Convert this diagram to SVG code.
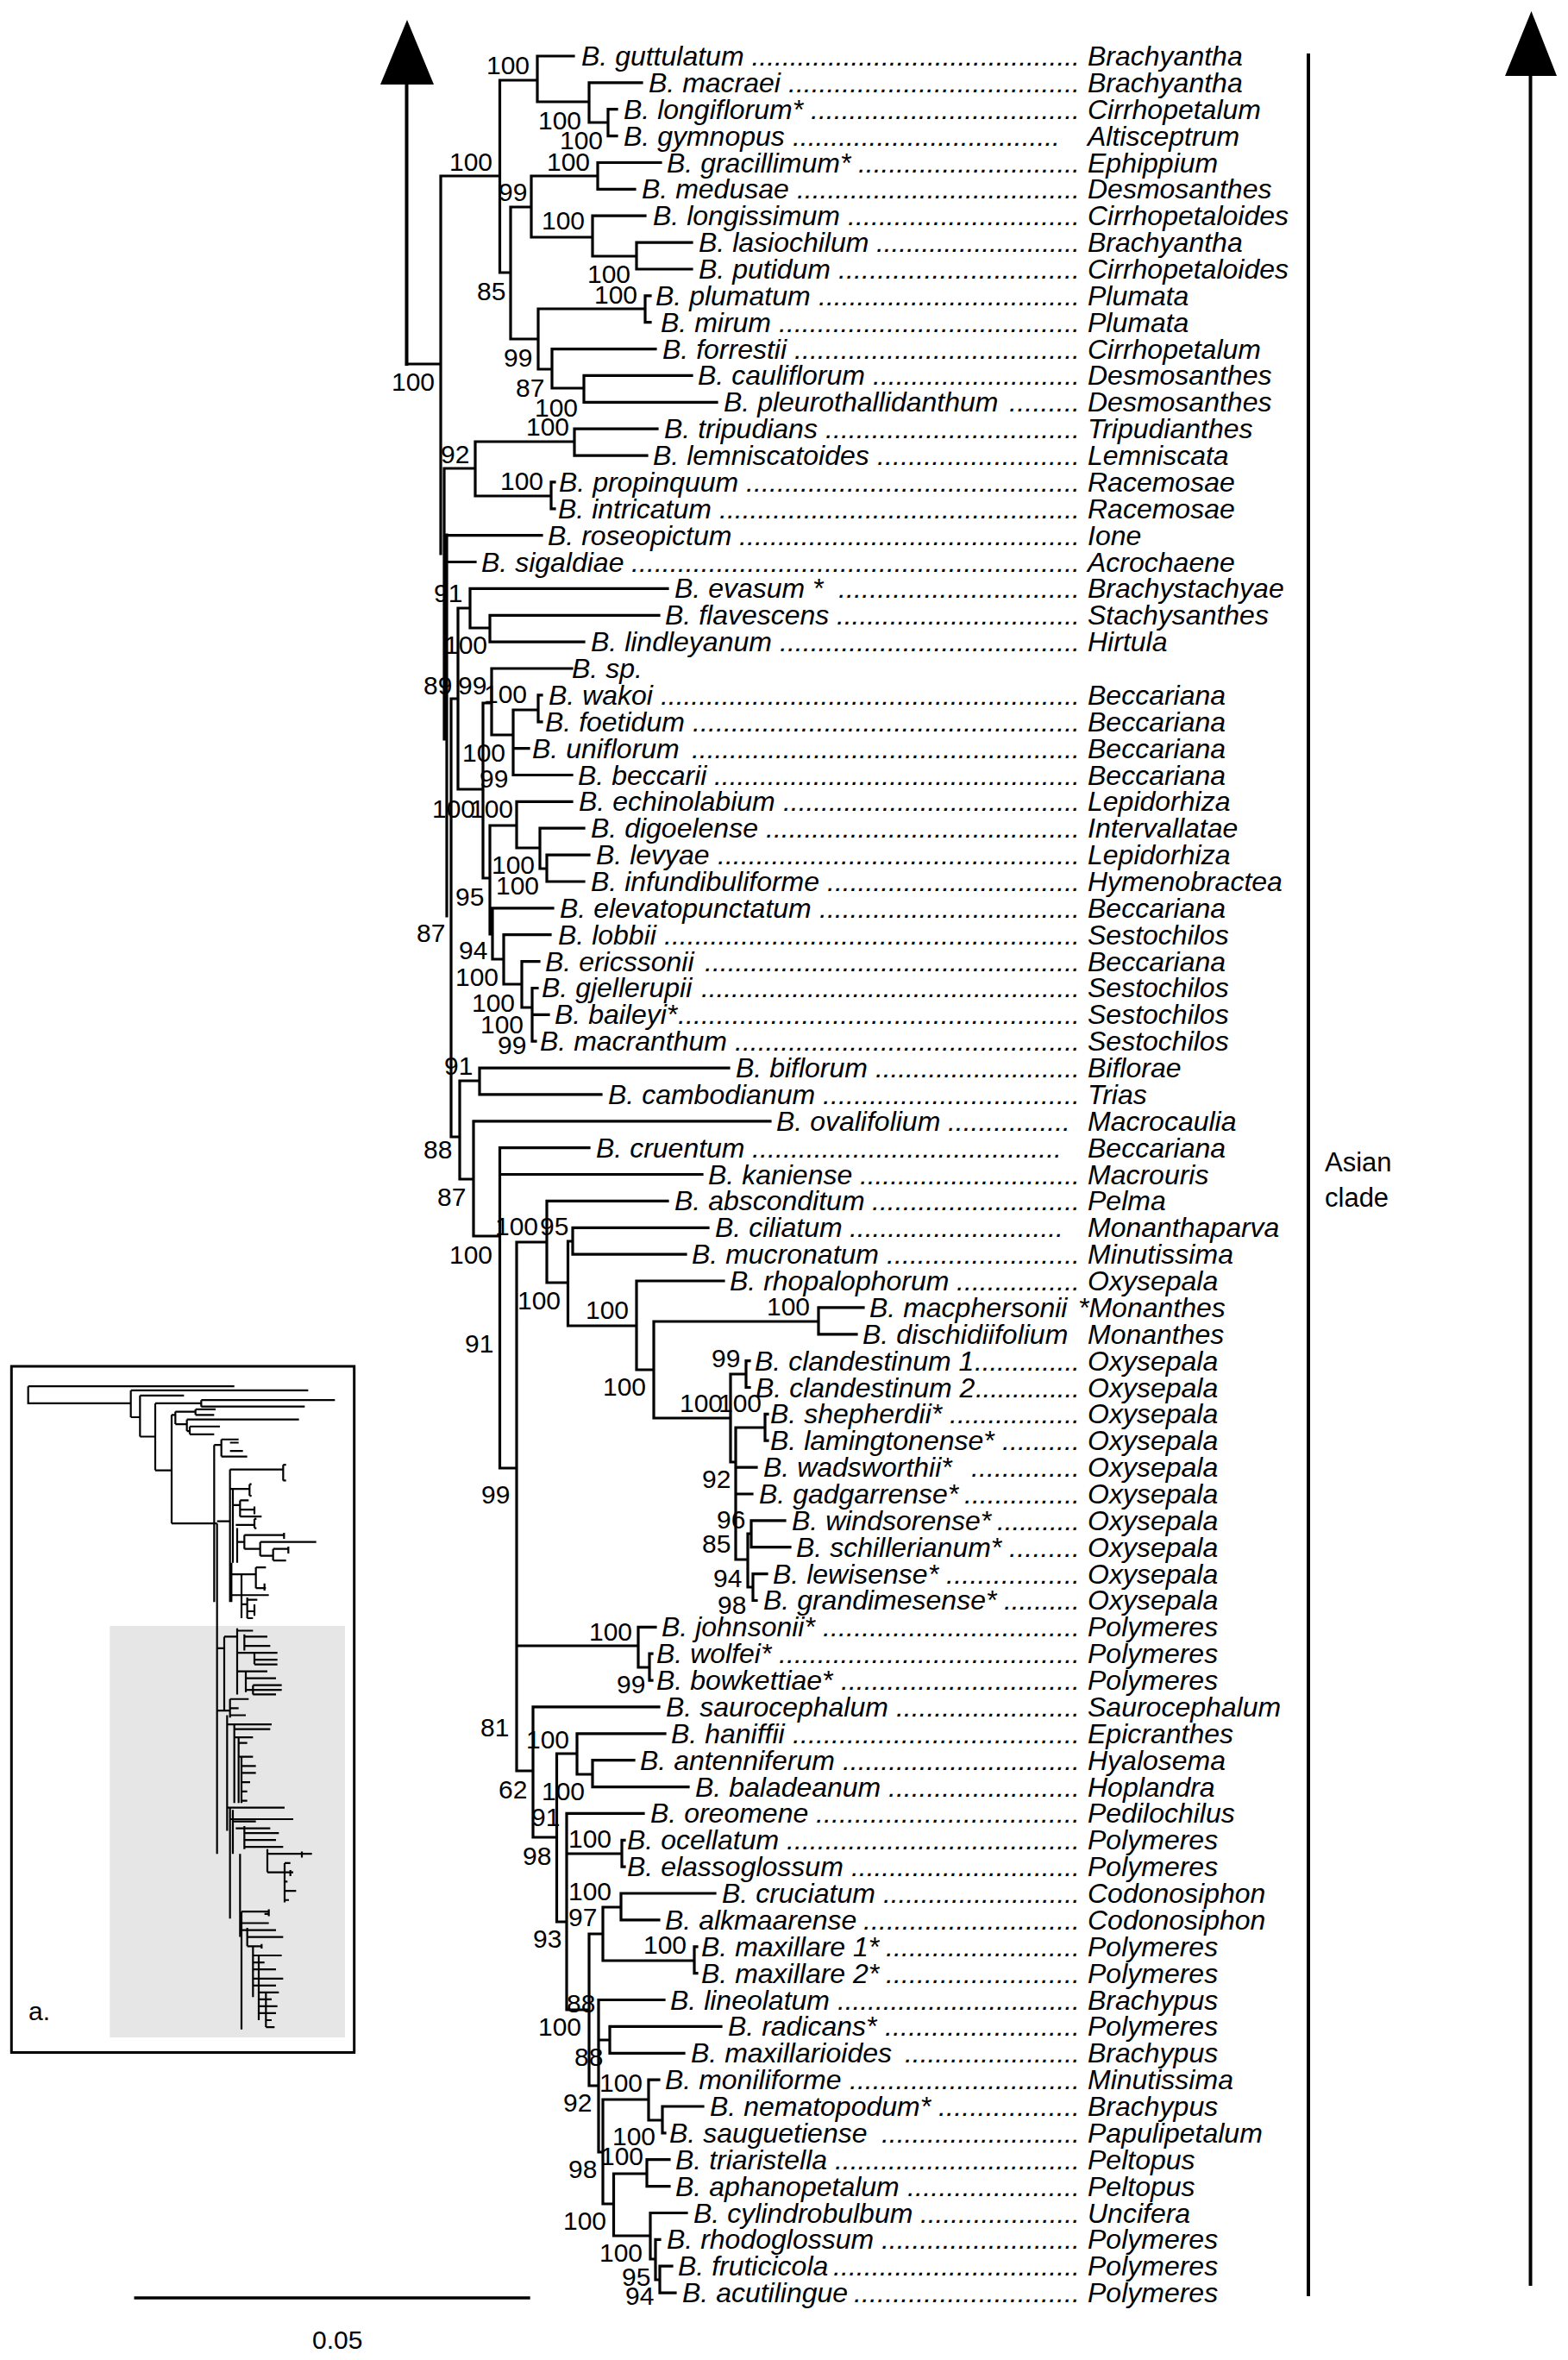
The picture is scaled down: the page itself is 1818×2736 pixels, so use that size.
<svg xmlns="http://www.w3.org/2000/svg" width="1818" height="2736" viewBox="0 0 1818 2736">
<style>
.sp{font-family:"Liberation Sans",Arial,Helvetica,sans-serif;font-size:32px;font-style:italic;fill:#000}
.bs{font-family:"Liberation Sans",Arial,Helvetica,sans-serif;font-size:30px;fill:#000}
.lb{font-family:"Liberation Sans",Arial,Helvetica,sans-serif;font-size:31px;fill:#000}
.tr{fill:none;stroke:#000;stroke-width:3.2;stroke-linecap:square}
.ax{fill:none;stroke:#000;stroke-width:4}
.ins{fill:none;stroke:#000;stroke-width:2.2}
</style>
<rect width="1818" height="2736" fill="#fff"/>

<g id="inset">
<rect x="13.3" y="1584" width="397.4" height="795.5" fill="#fff" stroke="#000" stroke-width="3"/>
<rect x="127.3" y="1885" width="272.7" height="477" fill="#e6e6e6"/>
<g transform="translate(0,1560) scale(0.33333,0.53562)">
<path class="ins" vector-effect="non-scaling-stroke" d="M98 88H815 M98 88V125H455 M455 97V155 M455 97H1072 M455 155H487 M487 108V197 M487 108H640 M487 197H540 M540 125V270 M540 125H700 M700 118V132 M700 118H1165 M700 132H1060 M540 270H597 M597 150V385 M597 150H610 M610 143V170 M610 143H680 M680 138V150 M680 138H750 M680 150H745 M610 170H650 M650 160V185 M650 160H1040 M650 185H660 M660 175V192 M660 175H765 M660 192H745 M597 385H755 M745 215V555 M745 215H770 M770 203V240 M770 203H830 M800 210H830 M770 240H860 M800 228H845 M755 385V1100 M755 380H800 M800 268V555 M800 268H985 M985 258V292 M985 258H995 M985 292H995 M800 310H868 M868 300V325 M868 300H875 M868 325H875 M810 310V470 M810 345H835 M835 335V370 M835 335H865 M835 355H885 M885 348V365 M835 370H910 M820 388H885 M885 375V395 M885 375H892 M885 395H892 M825 395V470 M825 425H850 M850 410V440 M850 410H990 M988 405V418 M850 440H905 M905 425V455 M905 425H1100 M905 455H950 M950 440V465 M950 440H1005 M1003 435V450 M950 465H995 M805 470V555 M805 495H890 M890 480V525 M890 480H925 M890 525H925 M920 515V530 M805 540H935 M840 495V590 M840 560H860 M860 545V590 M860 550H895 M860 575H885 M885 560V585 M860 590H880 M755 655H780 M780 630V790 M780 630H825 M825 612V755 M825 617H880 M850 625V660 M850 630H930 M850 650H940 M825 665H965 M885 665V690 M885 680H965 M885 690H965 M825 705H930 M855 705V750 M855 720H960 M880 735V755 M880 735H980 M855 745H980 M880 755H960 M755 790H800 M800 765V805 M800 765H865 M800 785H830 M800 800H855 M790 800V1050 M790 820H945 M815 820V990 M815 830H940 M815 848H880 M830 848V990 M830 860H860 M830 890H880 M840 890V990 M840 910H890 M840 925H890 M840 945H870 M840 965H860 M840 985H860 M790 1000H990 M800 1000V1240 M800 1025H1020 M810 1005V1100 M810 1030H890 M820 1045H940 M850 1040V1090 M850 1055H970 M850 1070H960 M850 1085H985 M930 1090V1140 M930 1100H1085 M1050 1095V1108 M930 1140H990 M990 1120V1205 M990 1120H1010 M990 1140H1020 M990 1160H1000 M990 1180H1030 M990 1200H1005 M1010 1135V1148 M835 1100V1280 M840 1225V1480 M840 1225H935 M935 1220V1235 M920 1230H935 M840 1250H935 M840 1265H960 M860 1260V1300 M860 1280H985 M860 1300H910 M910 1295V1305 M880 1300V1410 M880 1320H980 M880 1335H920 M880 1350H960 M880 1370H985 M880 1385H960 M900 1320V1460 M900 1400H970 M900 1415H945 M900 1430H965 M900 1445H960 M925 1400V1475 M925 1460H945 M925 1475H955"/>
</g>
<text class="bs" x="33" y="2342">a.</text>
</g>

<g id="scale">
<path d="M155.5 2664H614.7" fill="none" stroke="#000" stroke-width="3.5"/>
<text class="bs" x="362" y="2723">0.05</text>
</g>

<g id="arrows">
<path class="ax" d="M471.5 96V424"/>
<polygon points="472,23 441,98 503,98" fill="#000"/>
<path class="ax" d="M1774.5 86V2650"/>
<polygon points="1775.5,13 1745,88 1805,88" fill="#000"/>
<path class="ax" d="M1517 62V2662"/>
<text class="lb" x="1536" y="1358">Asian</text>
<text class="lb" x="1536" y="1399">clade</text>
</g>

<g id="connectors">
<path class="tr" d="M471.5 422H511 M511 204V642 M515 543V857 M518 620V1062 M523 810V1318H533 M533 1253V1367H549 M549 1299.8V1433H579.5 M579.5 1330.7V1702H599 M599 1440V2053H618
M511 204H579.5 M579.5 93V316 M579.5 93H623 M623 65V118 M623 65H665 M623 118H683 M683 95.9V142 M683 95.9H744 M683 142H705 M705 126.7V157.6 M705 126.7H715 M705 157.6H715
M579.5 316H592 M592 240V393 M592 240H616 M616 204V275 M616 204H693 M693 188.5V219.4 M693 188.5H766 M693 219.4H736
M616 275H687 M687 250.2V297 M687 250.2H748 M687 297H738 M738 281.1V312 M738 281.1H802 M738 312H802
M592 393H624 M624 358V428 M624 358H748 M748 342.8V373.7 M748 342.8H754 M748 373.7H754
M624 428H640 M640 404.6V450 M640 404.6H760 M640 450H677 M677 435.4V466.3 M677 435.4H802 M677 466.3H831
M515 543H551 M551 512V575 M551 512H666 M666 497.2V528.1 M666 497.2H762 M666 528.1H750 M551 575H639 M639 558.9V589.8 M639 558.9H643 M639 589.8H643
M518 620.7H628 M518 651.5H551
M523 810H531 M531 705V915 M531 705H545 M545 682.4V728 M545 682.4H774 M545 728H568 M568 713.3V744.1 M568 713.3H764 M568 744.1H677
M531 915H560 M560 815V1018 M560 815H570 M570 775V852 M570 775H663 M570 852H595 M595 823V898.5 M595 823H624 M624 805.9V836.8 M624 805.9H628 M624 836.8H628 M595 867.6H613 M595 898.5H663
M560 1018H568 M568 957V1083 M568 957H599 M599 929.4V983 M599 929.4H663 M599 983H626 M626 960.2V1007 M626 960.2H677 M626 1007H634 M634 991.1V1022 M634 991.1H683 M634 1022H677
M568 1083H571 M571 1052.8V1112 M571 1052.8H641 M571 1112H584 M584 1083.7V1141 M584 1083.7H638 M584 1141H605 M605 1114.6V1168 M605 1114.6H625 M605 1168H617 M617 1145.5V1207.2 M617 1145.5H623 M617 1176.3H636 M617 1207.2H621
M533 1253H556 M556 1238.1V1268.9 M556 1238.1H845 M556 1268.9H697
M549 1299.8H893
M579.5 1330.7H683 M579.5 1361.5H814
M599 1440H634 M634 1392.4V1487 M634 1392.4H774 M634 1487H658.5 M658.5 1439V1537 M658.5 1439H664 M664 1423.3V1454.2 M664 1423.3H821 M664 1454.2H795
M658.5 1537H738 M738 1485V1588 M738 1485H839 M738 1588H758 M758 1532V1644 M758 1532H949 M949 1515.9V1546.8 M949 1515.9H1001 M949 1546.8H993
M758 1644H847 M847 1593V1695 M847 1593H865 M865 1577.6V1608.5 M865 1577.6H869 M865 1608.5H869
M847 1695H853 M853 1655V1808 M853 1655H887 M887 1639.4V1670.2 M887 1639.4H890 M887 1670.2H890 M853 1701.1H877 M853 1732H872
M853 1808H867 M867 1778V1840 M867 1778H871 M871 1762.9V1793.7 M871 1762.9H910 M871 1793.7H916 M867 1840H873 M873 1824.6V1855.5 M873 1824.6H889 M873 1855.5H877
M599 1908H740 M740 1886.3V1933 M740 1886.3H760 M740 1933H753 M753 1917.2V1948.1 M753 1917.2H756 M753 1948.1H756
M618 1978.9V2130 M618 1978.9H764 M618 2130H645.5 M645.5 2033V2228 M645.5 2033H669 M669 2009.8V2057 M669 2009.8H771 M669 2057H687 M687 2040.7V2071.6 M687 2040.7H735 M687 2071.6H798
M645.5 2228H657 M657 2102.4V2330 M657 2102.4H746 M657 2149H721 M721 2133.3V2164.2 M721 2133.3H724 M721 2164.2H724
M657 2330H683 M683 2242V2418 M683 2242H699 M699 2211V2273 M699 2211H720 M720 2195V2225.9 M720 2195H829 M720 2225.9H764 M699 2273H805 M805 2256.8V2287.6 M805 2256.8H808 M805 2287.6H808
M683 2418H694 M694 2318.5V2495 M694 2318.5H770 M694 2365H707 M707 2349.4V2380.3 M707 2349.4H836 M707 2380.3H793
M694 2495H699 M699 2434V2555 M699 2434H752 M752 2411.1V2458 M752 2411.1H764 M752 2458H768 M768 2442V2472.9 M768 2442H815 M768 2472.9H771
M699 2555H711.5 M711.5 2520V2592 M711.5 2520H750 M750 2503.7V2534.6 M750 2503.7H776 M750 2534.6H776
M711.5 2592H754 M754 2565.5V2619 M754 2565.5H796 M754 2619H760 M760 2596.3V2643 M760 2596.3H765 M760 2643H765 M765 2627.2V2658.1 M765 2627.2H779 M765 2658.1H783"/>
</g>

<g id="support" class="bs">
<text x="454" y="453">100</text><text x="521" y="198">100</text><text x="564" y="86">100</text><text x="624" y="150">100</text><text x="649" y="173">100</text>
<text x="553" y="348">85</text><text x="578" y="233">99</text><text x="634" y="198">100</text><text x="628" y="266">100</text><text x="681" y="328">100</text>
<text x="584" y="425">99</text><text x="689" y="352">100</text><text x="598" y="460">87</text><text x="620" y="483">100</text><text x="511" y="537">92</text>
<text x="610" y="505">100</text><text x="580" y="568">100</text><text x="503" y="698">91</text><text x="515" y="758">100</text><text x="491" y="805">89</text>
<text x="531" y="805">99</text><text x="561" y="815">100</text><text x="536" y="883">100</text><text x="556" y="913">99</text><text x="501" y="948">100</text>
<text x="545" y="948">100</text><text x="570" y="1013">100</text><text x="575" y="1037">100</text><text x="528" y="1050">95</text><text x="483" y="1092">87</text>
<text x="532" y="1112">94</text><text x="528" y="1143">100</text><text x="547" y="1173">100</text><text x="557" y="1198">100</text><text x="577" y="1222">99</text>
<text x="515" y="1246">91</text><text x="491" y="1343">88</text><text x="507" y="1398">87</text><text x="574" y="1432">100</text><text x="626" y="1432">95</text>
<text x="521" y="1465">100</text><text x="600" y="1518">100</text><text x="679" y="1529">100</text><text x="889" y="1525">100</text><text x="539" y="1568">91</text>
<text x="825" y="1585">99</text><text x="699" y="1618">100</text><text x="788" y="1637">100</text><text x="833" y="1637">100</text><text x="814" y="1725">92</text>
<text x="831" y="1772">96</text><text x="814" y="1800">85</text><text x="827" y="1840">94</text><text x="832" y="1871">98</text><text x="558" y="1743">99</text>
<text x="683" y="1902">100</text><text x="715" y="1963">99</text><text x="557" y="2013">81</text><text x="610" y="2027">100</text><text x="578" y="2085">62</text>
<text x="628" y="2087">100</text><text x="616" y="2117">91</text><text x="606" y="2162">98</text><text x="659" y="2142">100</text><text x="659" y="2203">100</text>
<text x="659" y="2233">97</text><text x="618" y="2258">93</text><text x="746" y="2265">100</text><text x="657" y="2333">88</text><text x="624" y="2360">100</text>
<text x="666" y="2395">88</text><text x="695" y="2425">100</text><text x="653" y="2448">92</text><text x="710" y="2487">100</text><text x="696" y="2510">100</text>
<text x="659" y="2525">98</text><text x="653" y="2585">100</text><text x="695" y="2622">100</text><text x="721" y="2650">95</text><text x="725" y="2672">94</text>
</g>

<g id="leaves" class="sp">
<g id="guttulatum"><text x="674" y="76">B. guttulatum</text><text x="871.5" y="76" textLength="380.5" lengthAdjust="spacing">...........................................</text><text x="1261" y="76">Brachyantha</text></g>
<g id="macraei"><text x="752" y="107">B. macraei</text><text x="914" y="107" textLength="338" lengthAdjust="spacing">......................................</text><text x="1261" y="107">Brachyantha</text></g>
<g id="longiflorum"><text x="723" y="138">B. longiflorum*</text><text x="940" y="138" textLength="312" lengthAdjust="spacing">...................................</text><text x="1261" y="138">Cirrhopetalum</text></g>
<g id="gymnopus"><text x="723" y="169">B. gymnopus</text><text x="919" y="169" textLength="310" lengthAdjust="spacing">...................................</text><text x="1261" y="169">Altisceptrum</text></g>
<g id="gracillimum"><text x="773" y="200">B. gracillimum*</text><text x="995" y="200" textLength="257" lengthAdjust="spacing">.............................</text><text x="1261" y="200">Ephippium</text></g>
<g id="medusae"><text x="744" y="230">B. medusae</text><text x="924" y="230" textLength="328" lengthAdjust="spacing">.....................................</text><text x="1261" y="230">Desmosanthes</text></g>
<g id="longissimum"><text x="757" y="261">B. longissimum</text><text x="983" y="261" textLength="269" lengthAdjust="spacing">..............................</text><text x="1261" y="261">Cirrhopetaloides</text></g>
<g id="lasiochilum"><text x="810" y="292">B. lasiochilum</text><text x="1016" y="292" textLength="236" lengthAdjust="spacing">...........................</text><text x="1261" y="292">Brachyantha</text></g>
<g id="putidum"><text x="810" y="323">B. putidum</text><text x="972" y="323" textLength="280" lengthAdjust="spacing">...............................</text><text x="1261" y="323">Cirrhopetaloides</text></g>
<g id="plumatum"><text x="760" y="354">B. plumatum</text><text x="949" y="354" textLength="303" lengthAdjust="spacing">..................................</text><text x="1261" y="354">Plumata</text></g>
<g id="mirum"><text x="766" y="385">B. mirum</text><text x="903" y="385" textLength="349" lengthAdjust="spacing">.......................................</text><text x="1261" y="385">Plumata</text></g>
<g id="forrestii"><text x="768" y="416">B. forrestii</text><text x="921" y="416" textLength="331" lengthAdjust="spacing">.....................................</text><text x="1261" y="416">Cirrhopetalum</text></g>
<g id="cauliflorum"><text x="809" y="446">B. cauliflorum</text><text x="1012" y="446" textLength="240" lengthAdjust="spacing">...........................</text><text x="1261" y="446">Desmosanthes</text></g>
<g id="pleurothallidanthum"><text x="839" y="477">B. pleurothallidanthum</text><text x="1170" y="477" textLength="82" lengthAdjust="spacing">.........</text><text x="1261" y="477">Desmosanthes</text></g>
<g id="tripudians"><text x="770" y="508">B. tripudians</text><text x="957" y="508" textLength="295" lengthAdjust="spacing">.................................</text><text x="1261" y="508">Tripudianthes</text></g>
<g id="lemniscatoides"><text x="757" y="539">B. lemniscatoides</text><text x="1017" y="539" textLength="235" lengthAdjust="spacing">..........................</text><text x="1261" y="539">Lemniscata</text></g>
<g id="propinquum"><text x="648" y="570">B. propinquum</text><text x="865" y="570" textLength="387" lengthAdjust="spacing">...........................................</text><text x="1261" y="570">Racemosae</text></g>
<g id="intricatum"><text x="647" y="601">B. intricatum</text><text x="834" y="601" textLength="418" lengthAdjust="spacing">...............................................</text><text x="1261" y="601">Racemosae</text></g>
<g id="roseopictum"><text x="635" y="632">B. roseopictum</text><text x="857" y="632" textLength="395" lengthAdjust="spacing">............................................</text><text x="1261" y="632">Ione</text></g>
<g id="sigaldiae"><text x="558" y="663">B. sigaldiae</text><text x="732" y="663" textLength="520" lengthAdjust="spacing">..........................................................</text><text x="1261" y="663">Acrochaene</text></g>
<g id="evasum"><text x="782" y="693">B. evasum *</text><text x="972" y="693" textLength="280" lengthAdjust="spacing">...............................</text><text x="1261" y="693">Brachystachyae</text></g>
<g id="flavescens"><text x="771" y="724">B. flavescens</text><text x="970" y="724" textLength="282" lengthAdjust="spacing">................................</text><text x="1261" y="724">Stachysanthes</text></g>
<g id="lindleyanum"><text x="685" y="755">B. lindleyanum</text><text x="904" y="755" textLength="348" lengthAdjust="spacing">.......................................</text><text x="1261" y="755">Hirtula</text></g>
<g id="sp"><text x="663" y="786">B. sp.</text></g>
<g id="wakoi"><text x="636" y="817">B. wakoi</text><text x="766" y="817" textLength="486" lengthAdjust="spacing">.......................................................</text><text x="1261" y="817">Beccariana</text></g>
<g id="foetidum"><text x="632" y="848">B. foetidum</text><text x="803" y="848" textLength="449" lengthAdjust="spacing">..................................................</text><text x="1261" y="848">Beccariana</text></g>
<g id="uniflorum"><text x="617" y="879">B. uniflorum</text><text x="802" y="879" textLength="450" lengthAdjust="spacing">...................................................</text><text x="1261" y="879">Beccariana</text></g>
<g id="beccarii"><text x="670" y="910">B. beccarii</text><text x="828" y="910" textLength="424" lengthAdjust="spacing">................................................</text><text x="1261" y="910">Beccariana</text></g>
<g id="echinolabium"><text x="671" y="940">B. echinolabium</text><text x="908" y="940" textLength="344" lengthAdjust="spacing">.......................................</text><text x="1261" y="940">Lepidorhiza</text></g>
<g id="digoelense"><text x="685" y="971">B. digoelense</text><text x="888" y="971" textLength="364" lengthAdjust="spacing">.........................................</text><text x="1261" y="971">Intervallatae</text></g>
<g id="levyae"><text x="691" y="1002">B. levyae</text><text x="832" y="1002" textLength="420" lengthAdjust="spacing">...............................................</text><text x="1261" y="1002">Lepidorhiza</text></g>
<g id="infundibuliforme"><text x="685" y="1033">B. infundibuliforme</text><text x="959" y="1033" textLength="293" lengthAdjust="spacing">.................................</text><text x="1261" y="1033">Hymenobractea</text></g>
<g id="elevatopunctatum"><text x="649" y="1064">B. elevatopunctatum</text><text x="950" y="1064" textLength="302" lengthAdjust="spacing">..................................</text><text x="1261" y="1064">Beccariana</text></g>
<g id="lobbii"><text x="647" y="1095">B. lobbii</text><text x="770" y="1095" textLength="482" lengthAdjust="spacing">......................................................</text><text x="1261" y="1095">Sestochilos</text></g>
<g id="ericssonii"><text x="632" y="1126">B. ericssonii</text><text x="817" y="1126" textLength="435" lengthAdjust="spacing">.................................................</text><text x="1261" y="1126">Beccariana</text></g>
<g id="gjellerupii"><text x="628" y="1156">B. gjellerupii</text><text x="813" y="1156" textLength="439" lengthAdjust="spacing">..................................................</text><text x="1261" y="1156">Sestochilos</text></g>
<g id="baileyi"><text x="643" y="1187">B. baileyi*</text><text x="786" y="1187" textLength="466" lengthAdjust="spacing">....................................................</text><text x="1261" y="1187">Sestochilos</text></g>
<g id="macranthum"><text x="626" y="1218">B. macranthum</text><text x="852" y="1218" textLength="400" lengthAdjust="spacing">.............................................</text><text x="1261" y="1218">Sestochilos</text></g>
<g id="biflorum"><text x="853" y="1249">B. biflorum</text><text x="1015" y="1249" textLength="237" lengthAdjust="spacing">...........................</text><text x="1261" y="1249">Biflorae</text></g>
<g id="cambodianum"><text x="705" y="1280">B. cambodianum</text><text x="954" y="1280" textLength="298" lengthAdjust="spacing">.................................</text><text x="1261" y="1280">Trias</text></g>
<g id="ovalifolium"><text x="900" y="1311">B. ovalifolium</text><text x="1099" y="1311" textLength="142" lengthAdjust="spacing">................</text><text x="1261" y="1311">Macrocaulia</text></g>
<g id="cruentum"><text x="691" y="1342">B. cruentum</text><text x="872" y="1342" textLength="359" lengthAdjust="spacing">........................................</text><text x="1261" y="1342">Beccariana</text></g>
<g id="kaniense"><text x="821" y="1373">B. kaniense</text><text x="997" y="1373" textLength="255" lengthAdjust="spacing">.............................</text><text x="1261" y="1373">Macrouris</text></g>
<g id="absconditum"><text x="782" y="1403">B. absconditum</text><text x="1011" y="1403" textLength="241" lengthAdjust="spacing">...........................</text><text x="1261" y="1403">Pelma</text></g>
<g id="ciliatum"><text x="829" y="1434">B. ciliatum</text><text x="985" y="1434" textLength="248" lengthAdjust="spacing">............................</text><text x="1261" y="1434">Monanthaparva</text></g>
<g id="mucronatum"><text x="802" y="1465">B. mucronatum</text><text x="1028" y="1465" textLength="224" lengthAdjust="spacing">.........................</text><text x="1261" y="1465">Minutissima</text></g>
<g id="rhopalophorum"><text x="846" y="1496">B. rhopalophorum</text><text x="1109" y="1496" textLength="143" lengthAdjust="spacing">................</text><text x="1261" y="1496">Oxysepala</text></g>
<g id="macphersonii"><text x="1008" y="1527">B. macphersonii</text><text x="1250" y="1527">*Monanthes</text></g>
<g id="dischidiifolium"><text x="1000" y="1558">B. dischidiifolium</text><text x="1261" y="1558">Monanthes</text></g>
<g id="clandestinum1"><text x="875" y="1589">B. clandestinum 1</text><text x="1130" y="1589" textLength="122" lengthAdjust="spacing">..............</text><text x="1261" y="1589">Oxysepala</text></g>
<g id="clandestinum2"><text x="876" y="1620">B. clandestinum 2</text><text x="1131" y="1620" textLength="121" lengthAdjust="spacing">..............</text><text x="1261" y="1620">Oxysepala</text></g>
<g id="shepherdii"><text x="893" y="1650">B. shepherdii*</text><text x="1101" y="1650" textLength="151" lengthAdjust="spacing">.................</text><text x="1261" y="1650">Oxysepala</text></g>
<g id="lamingtonense"><text x="893" y="1681">B. lamingtonense*</text><text x="1162" y="1681" textLength="90" lengthAdjust="spacing">..........</text><text x="1261" y="1681">Oxysepala</text></g>
<g id="wadsworthii"><text x="885" y="1712">B. wadsworthii*</text><text x="1126" y="1712" textLength="126" lengthAdjust="spacing">..............</text><text x="1261" y="1712">Oxysepala</text></g>
<g id="gadgarrense"><text x="880" y="1743">B. gadgarrense*</text><text x="1118" y="1743" textLength="134" lengthAdjust="spacing">...............</text><text x="1261" y="1743">Oxysepala</text></g>
<g id="windsorense"><text x="918" y="1774">B. windsorense*</text><text x="1156" y="1774" textLength="96" lengthAdjust="spacing">...........</text><text x="1261" y="1774">Oxysepala</text></g>
<g id="schillerianum"><text x="923" y="1805">B. schillerianum*</text><text x="1170" y="1805" textLength="82" lengthAdjust="spacing">.........</text><text x="1261" y="1805">Oxysepala</text></g>
<g id="lewisense"><text x="896" y="1836">B. lewisense*</text><text x="1097" y="1836" textLength="155" lengthAdjust="spacing">.................</text><text x="1261" y="1836">Oxysepala</text></g>
<g id="grandimesense"><text x="885" y="1866">B. grandimesense*</text><text x="1164" y="1866" textLength="88" lengthAdjust="spacing">..........</text><text x="1261" y="1866">Oxysepala</text></g>
<g id="johnsonii"><text x="767" y="1897">B. johnsonii*</text><text x="954" y="1897" textLength="298" lengthAdjust="spacing">.................................</text><text x="1261" y="1897">Polymeres</text></g>
<g id="wolfei"><text x="761" y="1928">B. wolfei*</text><text x="903" y="1928" textLength="349" lengthAdjust="spacing">.......................................</text><text x="1261" y="1928">Polymeres</text></g>
<g id="bowkettiae"><text x="761" y="1959">B. bowkettiae*</text><text x="975" y="1959" textLength="277" lengthAdjust="spacing">...............................</text><text x="1261" y="1959">Polymeres</text></g>
<g id="saurocephalum"><text x="772" y="1990">B. saurocephalum</text><text x="1039" y="1990" textLength="213" lengthAdjust="spacing">........................</text><text x="1261" y="1990">Saurocephalum</text></g>
<g id="haniffii"><text x="778" y="2021">B. haniffii</text><text x="919" y="2021" textLength="333" lengthAdjust="spacing">.....................................</text><text x="1261" y="2021">Epicranthes</text></g>
<g id="antenniferum"><text x="742" y="2052">B. antenniferum</text><text x="977" y="2052" textLength="275" lengthAdjust="spacing">...............................</text><text x="1261" y="2052">Hyalosema</text></g>
<g id="baladeanum"><text x="806" y="2083">B. baladeanum</text><text x="1030" y="2083" textLength="222" lengthAdjust="spacing">.........................</text><text x="1261" y="2083">Hoplandra</text></g>
<g id="oreomene"><text x="754" y="2113">B. oreomene</text><text x="946" y="2113" textLength="306" lengthAdjust="spacing">..................................</text><text x="1261" y="2113">Pedilochilus</text></g>
<g id="ocellatum"><text x="727" y="2144">B. ocellatum</text><text x="912" y="2144" textLength="340" lengthAdjust="spacing">......................................</text><text x="1261" y="2144">Polymeres</text></g>
<g id="elassoglossum"><text x="727" y="2175">B. elassoglossum</text><text x="987" y="2175" textLength="265" lengthAdjust="spacing">..............................</text><text x="1261" y="2175">Polymeres</text></g>
<g id="cruciatum"><text x="837" y="2206">B. cruciatum</text><text x="1024" y="2206" textLength="228" lengthAdjust="spacing">..........................</text><text x="1261" y="2206">Codonosiphon</text></g>
<g id="alkmaarense"><text x="771" y="2237">B. alkmaarense</text><text x="1001" y="2237" textLength="251" lengthAdjust="spacing">............................</text><text x="1261" y="2237">Codonosiphon</text></g>
<g id="maxillare1"><text x="813" y="2268">B. maxillare 1*</text><text x="1027" y="2268" textLength="225" lengthAdjust="spacing">.........................</text><text x="1261" y="2268">Polymeres</text></g>
<g id="maxillare2"><text x="813" y="2299">B. maxillare 2*</text><text x="1027" y="2299" textLength="225" lengthAdjust="spacing">.........................</text><text x="1261" y="2299">Polymeres</text></g>
<g id="lineolatum"><text x="777" y="2330">B. lineolatum</text><text x="971" y="2330" textLength="281" lengthAdjust="spacing">................................</text><text x="1261" y="2330">Brachypus</text></g>
<g id="radicans"><text x="844" y="2360">B. radicans*</text><text x="1026" y="2360" textLength="226" lengthAdjust="spacing">.........................</text><text x="1261" y="2360">Polymeres</text></g>
<g id="maxillarioides"><text x="801" y="2391">B. maxillarioides</text><text x="1049" y="2391" textLength="203" lengthAdjust="spacing">.......................</text><text x="1261" y="2391">Brachypus</text></g>
<g id="moniliforme"><text x="771" y="2422">B. moniliforme</text><text x="985" y="2422" textLength="267" lengthAdjust="spacing">..............................</text><text x="1261" y="2422">Minutissima</text></g>
<g id="nematopodum"><text x="823" y="2453">B. nematopodum*</text><text x="1088" y="2453" textLength="164" lengthAdjust="spacing">..................</text><text x="1261" y="2453">Brachypus</text></g>
<g id="sauguetiense"><text x="776" y="2484">B. sauguetiense</text><text x="1022" y="2484" textLength="230" lengthAdjust="spacing">..........................</text><text x="1261" y="2484">Papulipetalum</text></g>
<g id="triaristella"><text x="783" y="2515">B. triaristella</text><text x="968" y="2515" textLength="284" lengthAdjust="spacing">................................</text><text x="1261" y="2515">Peltopus</text></g>
<g id="aphanopetalum"><text x="783" y="2546">B. aphanopetalum</text><text x="1052" y="2546" textLength="200" lengthAdjust="spacing">......................</text><text x="1261" y="2546">Peltopus</text></g>
<g id="cylindrobulbum"><text x="804" y="2577">B. cylindrobulbum</text><text x="1067" y="2577" textLength="185" lengthAdjust="spacing">.....................</text><text x="1261" y="2577">Uncifera</text></g>
<g id="rhodoglossum"><text x="773" y="2607">B. rhodoglossum</text><text x="1022" y="2607" textLength="230" lengthAdjust="spacing">..........................</text><text x="1261" y="2607">Polymeres</text></g>
<g id="fruticicola"><text x="786" y="2638">B. fruticicola</text><text x="966" y="2638" textLength="286" lengthAdjust="spacing">................................</text><text x="1261" y="2638">Polymeres</text></g>
<g id="acutilingue"><text x="791" y="2669">B. acutilingue</text><text x="990" y="2669" textLength="262" lengthAdjust="spacing">.............................</text><text x="1261" y="2669">Polymeres</text></g>
</g>
</svg>
